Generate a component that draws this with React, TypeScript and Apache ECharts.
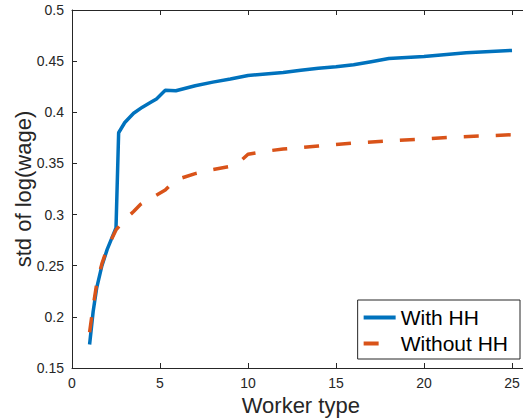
import React, { useEffect, useRef } from "react";
import * as echarts from "echarts";

const withHH: [number, number][] = [
  [1, 0.173], [1.2, 0.205], [1.4, 0.228], [1.7, 0.25], [2, 0.266], [2.5, 0.287],
  [2.65, 0.38], [3, 0.39], [3.5, 0.399], [4, 0.405], [4.5, 0.41], [4.8, 0.413],
  [5.3, 0.4215], [5.9, 0.421], [7, 0.426], [8, 0.4295], [9, 0.4325], [10, 0.436],
  [11, 0.4375], [12, 0.439], [13, 0.441], [14, 0.443], [15, 0.4445], [16, 0.4465],
  [17, 0.4495], [18, 0.4525], [20, 0.4545], [22.4, 0.4583], [25, 0.4605],
];

const withoutHH: [number, number][] = [
  [1, 0.185], [1.2, 0.21], [1.4, 0.232], [1.7, 0.252], [2, 0.267], [2.5, 0.285],
  [3, 0.295], [3.5, 0.303], [3.9, 0.31], [4.5, 0.316], [5.3, 0.324], [5.9, 0.334],
  [7, 0.34], [8, 0.344], [9.3, 0.348], [10, 0.359], [11, 0.362], [12, 0.364],
  [14, 0.367], [16, 0.37], [18, 0.372], [20, 0.374], [22, 0.376], [25, 0.378],
];

const seriesNames = ["With HH", "Without HH"];
const xTitle = "Worker type";
const yTitle = "std of log(wage)";

export default function App() {
  const ref = useRef<HTMLDivElement>(null);
  useEffect(() => {
    if (!ref.current) return;
    const chart = echarts.init(ref.current, undefined, { renderer: "svg" });
    const axisColor = "#262626";
    const font = "Liberation Sans, Arial, Helvetica, sans-serif";
    chart.setOption({
      animation: false,
      backgroundColor: "#ffffff",
      textStyle: { fontFamily: font },
      grid: { left: 72, top: 10, width: 457.6, height: 358, containLabel: false, outerBoundsMode: "none" },
      legend: {
        orient: "vertical",
        right: 3,
        bottom: 60,
        data: seriesNames,
        backgroundColor: "#ffffff",
        borderColor: axisColor,
        borderWidth: 1,
        borderRadius: 0,
        padding: [7, 12, 5, 4],
        itemGap: 5,
        itemWidth: 32,
        itemHeight: 14,
        itemStyle: { opacity: 0 },
        lineStyle: { width: 4 },
        textStyle: { fontSize: 21, color: "#000000", fontFamily: font },
      },
      xAxis: [
        {
          type: "value",
          min: 0,
          max: 26,
          interval: 5,
          name: xTitle,
          nameLocation: "middle",
          nameGap: 24,
          nameTextStyle: { fontSize: 22, color: axisColor, fontFamily: font },
          axisLine: { show: true, lineStyle: { color: axisColor, width: 1 } },
          axisTick: { show: true, inside: true, length: 5, lineStyle: { color: axisColor } },
          axisLabel: { fontSize: 14, color: axisColor, margin: 8, fontFamily: font, formatter: (v: number) => (v > 25 ? "" : String(v)) },
          splitLine: { show: false },
        },
        {
          type: "value",
          position: "top",
          min: 0,
          max: 26,
          interval: 5,
          axisLine: { show: true, lineStyle: { color: axisColor, width: 1 } },
          axisTick: { show: true, inside: true, length: 5, lineStyle: { color: axisColor } },
          axisLabel: { show: false },
          splitLine: { show: false },
        },
      ],
      yAxis: [
        {
          type: "value",
          min: 0.15,
          max: 0.5,
          interval: 0.05,
          name: yTitle,
          nameLocation: "middle",
          nameGap: 38,
          nameMoveOverlap: false,
          nameTextStyle: { fontSize: 22, color: axisColor, fontFamily: font },
          axisLine: { show: true, lineStyle: { color: axisColor, width: 1 } },
          axisTick: { show: true, inside: true, length: 5, lineStyle: { color: axisColor } },
          axisLabel: { fontSize: 14, color: axisColor, margin: 8, fontFamily: font, formatter: (v: number) => String(Math.round(v * 100) / 100) },
          splitLine: { show: false },
        },
      ],
      series: [
        {
          name: seriesNames[0],
          type: "line",
          data: withHH,
          showSymbol: false,
          symbol: "none",
          lineStyle: { color: "#0072BD", width: 3.5 },
          itemStyle: { color: "#0072BD" },
          z: 2,
        },
        {
          name: seriesNames[1],
          type: "line",
          data: withoutHH,
          showSymbol: false,
          symbol: "none",
          lineStyle: { color: "#D95319", width: 3.5, type: [15, 17], cap: "butt" },
          itemStyle: { color: "#D95319" },
          z: 3,
        },
      ],
    });
    return () => chart.dispose();
  }, []);
  return <div ref={ref} style={{ width: 523, height: 419, position: "absolute", left: 0, top: 0 }} />;
}
